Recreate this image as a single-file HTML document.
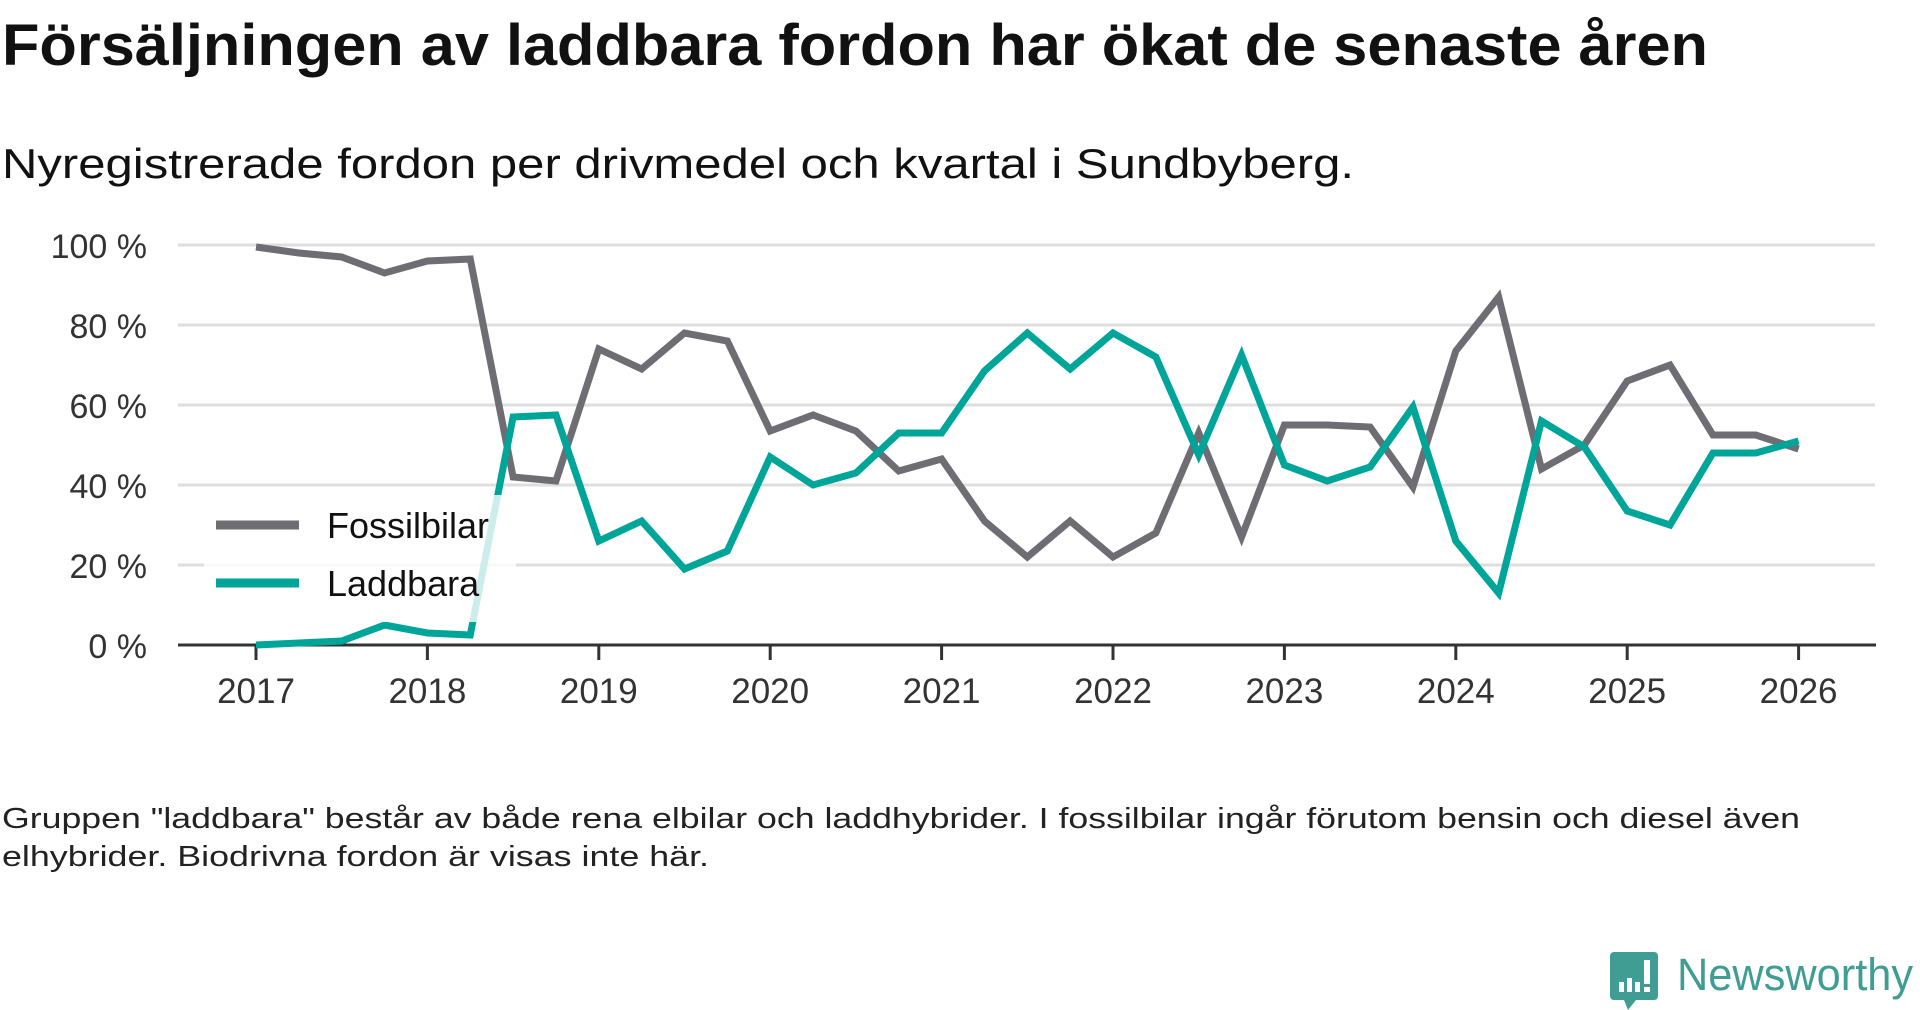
<!DOCTYPE html>
<html><head><meta charset="utf-8"><style>
html,body{margin:0;padding:0;background:#fff;}
svg{display:block;font-family:"Liberation Sans",sans-serif;}
</style></head><body>
<svg id="chart" width="1920" height="1010" viewBox="0 0 1920 1010">
<text x="2" y="65" font-size="58" font-weight="bold" fill="#111" textLength="1706" lengthAdjust="spacingAndGlyphs">Försäljningen av laddbara fordon har ökat de senaste åren</text>
<text x="2" y="178" font-size="42" fill="#111" textLength="1352" lengthAdjust="spacingAndGlyphs">Nyregistrerade fordon per drivmedel och kvartal i Sundbyberg.</text>
<g id="grid"></g>
<g id="lines"></g>
<g id="legend">
<rect x="204" y="495" width="312" height="127" fill="#fff" fill-opacity="0.8"/>
<line x1="216" y1="525" x2="299" y2="525" stroke="#6e6d74" stroke-width="9"/>
<text x="327" y="538" font-size="36" fill="#111">Fossilbilar</text>
<line x1="216" y1="583" x2="299" y2="583" stroke="#00a59a" stroke-width="9"/>
<text x="327" y="596" font-size="36" fill="#111">Laddbara</text>
</g>
<text x="2" y="828" font-size="29" fill="#222" textLength="1798" lengthAdjust="spacingAndGlyphs">Gruppen "laddbara" består av både rena elbilar och laddhybrider. I fossilbilar ingår förutom bensin och diesel även</text>
<text x="2" y="866" font-size="29" fill="#222" textLength="707" lengthAdjust="spacingAndGlyphs">elhybrider. Biodrivna fordon är visas inte här.</text>
<g>
<path d="M1614 952 h40 a4 4 0 0 1 4 4 v40 a4 4 0 0 1 -4 4 h-18 l-8 10 l-4 -10 h-10 a4 4 0 0 1 -4 -4 v-40 a4 4 0 0 1 4 -4z" fill="#3f9d94"/>
<rect x="1619" y="982" width="5" height="10" fill="#fff"/><rect x="1627" y="978" width="5" height="14" fill="#fff"/><rect x="1635" y="982" width="5" height="10" fill="#fff"/><rect x="1644" y="960" width="6" height="24" fill="#fff"/><rect x="1644" y="987" width="6" height="5" fill="#fff"/>
<text x="1677" y="990" font-size="45" fill="#3f9d94" textLength="236" lengthAdjust="spacingAndGlyphs">Newsworthy</text>
</g>
</svg>
<script>
const yTicks=[0,20,40,60,80,100];
const yTickLabels=["0 %","20 %","40 %","60 %","80 %","100 %"];
const years=[2017,2018,2019,2020,2021,2022,2023,2024,2025,2026];
const fossil=[99.5,98,97,93,96,96.5,42,41,74,69,78,76,53.5,57.5,53.5,43.5,46.5,31,22,31,22,28,53,27,55,55,54.5,39.5,73.5,87,44,50,66,70,52.5,52.5,49];
const laddbara=[0,0.5,1,5,3,2.5,57,57.5,26,31,19,23.5,47,40,43,53,53,68.5,78,69,78,72,47.5,72.5,45,41,44.5,59.5,26,13,56,49.5,33.5,30,48,48,51];
const NS="http://www.w3.org/2000/svg";
const x0=256,yearW=171.4,y0=645,yPer=4.0;
function xs(q){return x0+q*yearW/4;}
function xy(y){return x0+(y-2017)*yearW;}
function ys(v){return y0-v*yPer;}
const grid=document.getElementById('grid'),lines=document.getElementById('lines');
yTicks.forEach((t,i)=>{
 if(t>0){const l=document.createElementNS(NS,'line');
 l.setAttribute('x1',178);l.setAttribute('x2',1875);l.setAttribute('y1',ys(t));l.setAttribute('y2',ys(t));
 l.setAttribute('stroke','#dedede');l.setAttribute('stroke-width',3);
 
 
 grid.appendChild(l);}
 const tx=document.createElementNS(NS,'text');
 tx.setAttribute('x',147);tx.setAttribute('y',ys(t)+13);tx.setAttribute('text-anchor','end');
 tx.setAttribute('font-size',34);tx.setAttribute('fill','#333');tx.textContent=yTickLabels[i];
 
 
 grid.appendChild(tx);
});
const ax=document.createElementNS(NS,'line');
ax.setAttribute('x1',178);ax.setAttribute('x2',1876);ax.setAttribute('y1',y0);ax.setAttribute('y2',y0);
ax.setAttribute('stroke','#333');ax.setAttribute('stroke-width',3);


grid.appendChild(ax);
years.forEach(y=>{
 const tk=document.createElementNS(NS,'line');
 tk.setAttribute('x1',xy(y));tk.setAttribute('x2',xy(y));tk.setAttribute('y1',y0);tk.setAttribute('y2',y0+15);
 tk.setAttribute('stroke','#333');tk.setAttribute('stroke-width',3);
 
 
 grid.appendChild(tk);
 const tx=document.createElementNS(NS,'text');
 tx.setAttribute('x',xy(y));tx.setAttribute('y',703);tx.setAttribute('text-anchor','middle');
 tx.setAttribute('font-size',35);tx.setAttribute('fill','#333');tx.textContent=y;
 
 
 grid.appendChild(tx);
});
function series(arr,color,name){
 const p=document.createElementNS(NS,'polyline');
 p.setAttribute('points',arr.map((v,i)=>xs(i)+','+ys(v)).join(' '));
 p.setAttribute('fill','none');p.setAttribute('stroke',color);p.setAttribute('stroke-width',7);
 p.setAttribute('stroke-linejoin','miter');
 
 
 lines.appendChild(p);
}
series(fossil,'#6e6d74','fossilbilar-line');
series(laddbara,'#00a59a','laddbara-line');
</script>
</body></html>
